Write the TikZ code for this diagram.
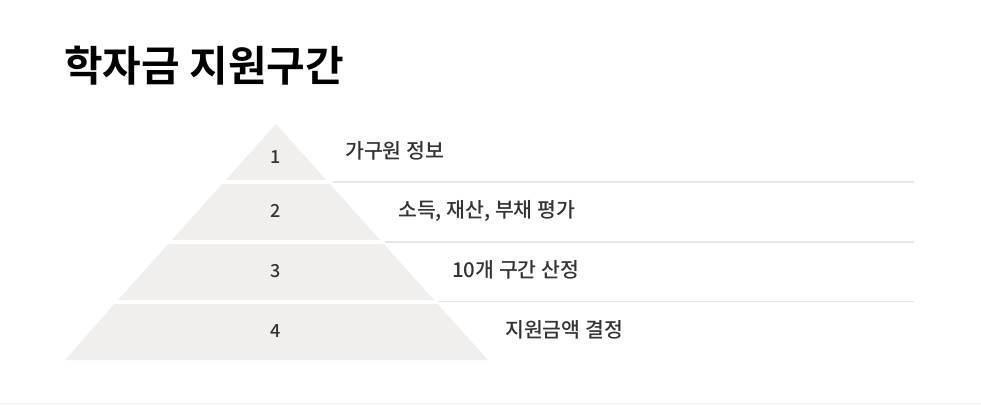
\documentclass[tikz,border=0pt]{standalone}
\usepackage{fontspec}
\setmainfont{Noto Sans CJK KR Medium}
\newfontfamily\titlefont{Noto Sans CJK KR Bold}
\definecolor{bandgray}{HTML}{F1EFEE}
\definecolor{rulegray}{HTML}{E6E6E6}
\definecolor{textgray}{HTML}{333333}
\begin{document}
\begin{tikzpicture}[x=1pt,y=-1pt]
  \tikzset{ band/.style={fill=bandgray,draw=none},
    num/.style={text=textgray,inner sep=0pt,font=\fontsize{18}{20}\selectfont},
    lab/.style={text=textgray,inner sep=0pt,anchor=west,font=\fontsize{20.5}{24}\selectfont},
    sep/.style={rulegray,line width=1.6pt},
  }
  \useasboundingbox[fill=white] (0,0) rectangle (981,404);
  % the title
  \node[anchor=west,inner sep=0pt,font=\titlefont\fontsize{42}{46}\selectfont] (title) at (64,66) {학자금 지원구간};
  % the four bands of the pyramid
  \fill[band] (276,124) -- (326.3,180) -- (225.7,180) -- cycle;
  \fill[band] (222.1,184) -- (329.9,184) -- (380.2,240) -- (171.8,240) -- cycle;
  \fill[band] (168.2,244) -- (383.8,244) -- (434,300) -- (118,300) -- cycle;
  \fill[band] (114.4,304) -- (437.6,304) -- (488,360) -- (65,360) -- cycle;
  % the numbers
  \node[num] (n1) at (276,157) {1};
  \node[num] (n2) at (276,211) {2};
  \node[num] (n3) at (276,271) {3};
  \node[num] (n4) at (276,331) {4};
  % the labels
  \node[lab] (l1) at (345,151) {가구원 정보};
  \node[lab] (l2) at (398,211) {소득, 재산, 부채 평가};
  \node[lab] (l3) at (452,270) {10개 구간 산정};
  \node[lab] (l4) at (505,330) {지원금액 결정};
  % the rules between the labels
  \coordinate (s1) at (333,182); \coordinate (e1) at (914,182);
  \coordinate (s2) at (385,242); \coordinate (e2) at (914,242);
  \coordinate (s3) at (438,301.5); \coordinate (e3) at (914,301.5);
  \draw[sep] (s1) -- (e1);
  \draw[sep] (s2) -- (e2);
  \draw[sep] (s3) -- (e3);
  % the bottom edge
  \coordinate (b1) at (0,403); \coordinate (b2) at (981,403);
  \draw[rulegray!50,line width=1pt] (b1) -- (b2);
\end{tikzpicture}
\end{document}
